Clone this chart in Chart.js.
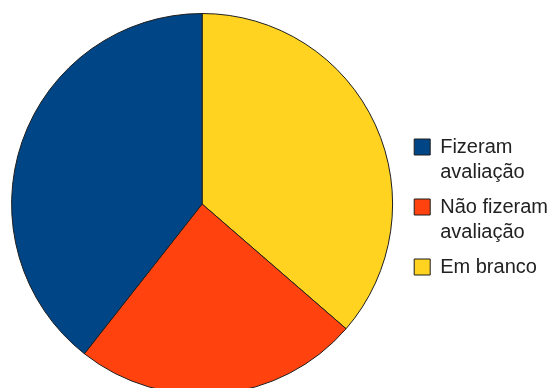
<!DOCTYPE html>
<html>
<head>
<meta charset="utf-8">
<script src="https://cdn.jsdelivr.net/npm/chart.js@4.4.0/dist/chart.umd.min.js"></script>
<style>
  html, body { margin: 0; padding: 0; background: #fff; overflow: hidden; }
  #wrap { position: relative; width: 550px; height: 410px; }
</style>
</head>
<body>
<div id="wrap"><canvas id="pieChart"></canvas></div>
<script>
// legend order (top to bottom)
var categories = [['Fizeram', 'avaliação'], ['Não fizeram', 'avaliação'], 'Em branco'];
var values = [13, 8, 12];
var sliceColors = ['#004586', '#ff420e', '#ffd320'];

// the original pie runs counter-clockwise from 12 o'clock, so feed it reversed
// and flip the legend back
var labelsCw = categories.slice().reverse();
var valuesCw = values.slice().reverse();
var colorsCw = sliceColors.slice().reverse();

Chart.defaults.font.family = "'Liberation Sans', Arial, sans-serif";
Chart.defaults.color = '#222';

var ctx = document.getElementById('pieChart').getContext('2d');
var myChart = new Chart(ctx, {
  type: 'pie',
  data: {
    labels: labelsCw,
    datasets: [{
      data: valuesCw,
      backgroundColor: colorsCw,
      borderColor: '#1e1e1e',
      borderWidth: 1,
      hoverOffset: 0
    }]
  },
  options: {
    responsive: true,
    maintainAspectRatio: false,
    animation: false,
    layout: {
      padding: { left: 0, right: -8, top: 13, bottom: 15 }
    },
    plugins: {
      tooltip: { enabled: false },
      legend: {
        position: 'right',
        reverse: true,
        // empty title only nudges the items down a little
        title: { display: true, text: ' ', font: { size: 5, lineHeight: 1.2 }, padding: 0 },
        labels: {
          boxWidth: 16,
          boxHeight: 16,
          padding: 10,
          color: '#222',
          font: { size: 20, lineHeight: 1.25 }
        }
      }
    }
  }
});
</script>
</body>
</html>
